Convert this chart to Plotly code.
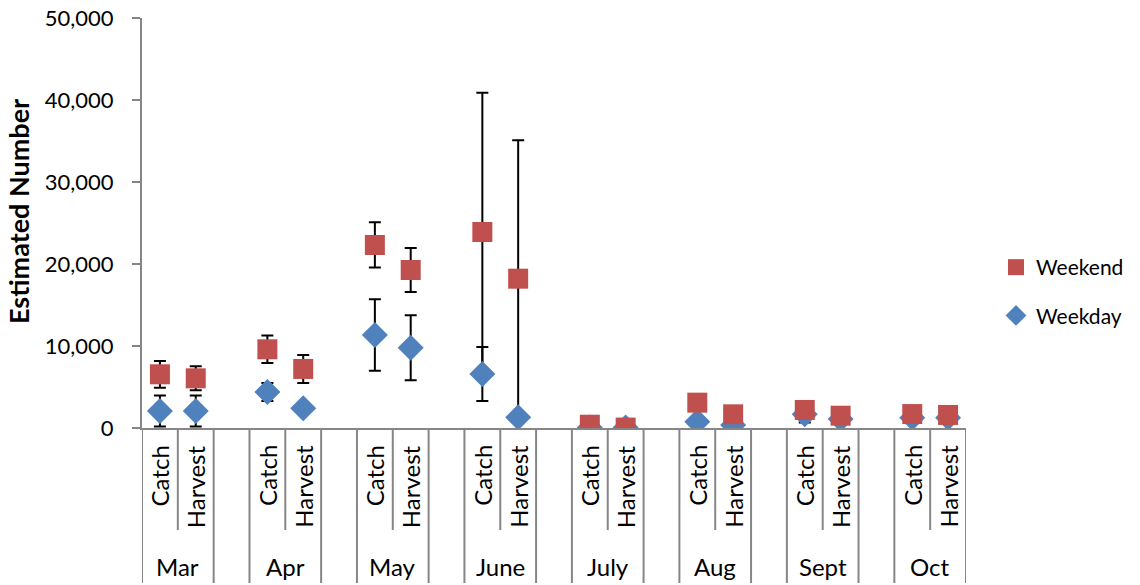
import plotly.graph_objects as go

months = ["Mar", "Apr", "May", "June", "July", "Aug", "Sept", "Oct"]
measures = ["Catch", "Harvest"]

# values in order: Mar Catch, Mar Harvest, Apr Catch, Apr Harvest, ...
weekend = [6550, 6060, 9600, 7200, 22320, 19270, 23900, 18210,
           400, 50, 3090, 1670, 2200, 1500, 1700, 1590]
weekend_err = [1630, 1460, 1680, 1700, 2760, 2680, 16990, 16870,
               0, 0, 0, 0, 0, 0, 0, 0]
weekday = [2070, 2070, 4400, 2400, 11340, 9790, 6590, 1300,
           50, 50, 770, 370, 1670, 1100, 1260, 1260]
weekday_err = [1900, 1900, 1100, 400, 4350, 3960, 3300, 0,
               0, 0, 0, 0, 1000, 0, 0, 0]

yticks = [0, 10000, 20000, 30000, 40000, 50000]

RED = "#C0504D"
BLUE = "#4F81BD"
GRAY = "#868686"
FONT = "Lato"

# category slot positions: each month has Catch, Harvest, then a blank slot
xpos = []
for m in range(len(months)):
    for j in range(len(measures)):
        xpos.append(3 * m + j)
n_slots = 3 * len(months) - 1

fig = go.Figure()

errbar = dict(type="data", symmetric=True, color="black", thickness=2, width=6, visible=True)

# error bars first (drawn beneath all markers)
fig.add_trace(go.Scatter(x=xpos, y=weekday, mode="markers",
                         marker=dict(size=1, color="rgba(0,0,0,0)"),
                         error_y=dict(array=weekday_err, **errbar),
                         showlegend=False, hoverinfo="skip"))
fig.add_trace(go.Scatter(x=xpos, y=weekend, mode="markers",
                         marker=dict(size=1, color="rgba(0,0,0,0)"),
                         error_y=dict(array=weekend_err, **errbar),
                         showlegend=False, hoverinfo="skip"))

fig.add_trace(go.Scatter(x=xpos, y=weekday, mode="markers", name="Weekday",
                         marker=dict(symbol="diamond", size=20, color=BLUE,
                                     line=dict(width=0)),
                         legendgroup="wd", legendrank=2))
fig.add_trace(go.Scatter(x=xpos, y=weekend, mode="markers", name="Weekend",
                         marker=dict(symbol="square", size=20, color=RED,
                                     line=dict(width=0)),
                         legendgroup="we", legendrank=1))

W, H = 1140, 585
L, T = 142, 18
R = W - 966
B = H - 428
plot_w = W - L - R
plot_h = H - T - B
def py(pix):
    return (428 - pix) / plot_h
def px(pix):
    return (pix - 142) / plot_w

shapes = []
annotations = []
for m, month in enumerate(months):
    left = 3 * m - 0.5
    right = 3 * m + 1.5
    for xv in (left, right):
        shapes.append(dict(type="line", xref="x", yref="paper", x0=xv, x1=xv,
                           y0=0, y1=py(583), line=dict(color=GRAY, width=2)))
    shapes.append(dict(type="line", xref="x", yref="paper", x0=3 * m + 0.5, x1=3 * m + 0.5,
                       y0=0, y1=py(530), line=dict(color=GRAY, width=2)))
    for j, meas in enumerate(measures):
        annotations.append(dict(x=3 * m + j, y=py(443), xref="x", yref="paper",
                                text=meas, textangle=-90, showarrow=False,
                                xanchor="center", yanchor="top",
                                font=dict(family=FONT, size=24, color="black")))
    annotations.append(dict(x=3 * m + 0.5, y=py(566), xref="x", yref="paper",
                            text=month, showarrow=False, xanchor="center", yanchor="middle",
                            font=dict(family=FONT, size=24, color="black")))

# y-axis title as annotation for exact placement
annotations.append(dict(x=px(18), y=py(212), xref="paper", yref="paper",
                        text="<b>Estimated Number</b>", textangle=-90, showarrow=False,
                        xanchor="center", yanchor="middle",
                        font=dict(family=FONT, size=27, color="black")))

fig.update_layout(
    width=W, height=H, autosize=False,
    margin=dict(l=L, r=R, t=T, b=B, autoexpand=False),
    plot_bgcolor="white", paper_bgcolor="white",
    font=dict(family=FONT, color="black"),
    shapes=shapes, annotations=annotations,
    legend=dict(x=px(996), y=py(291.5),
                xanchor="left", yanchor="middle", traceorder="grouped",
                tracegroupgap=18, font=dict(family=FONT, size=21, color="black"),
                bgcolor="rgba(0,0,0,0)", itemwidth=30),
    xaxis=dict(range=[-0.5, n_slots - 0.5], showticklabels=False, ticks="",
               showgrid=False, zeroline=False, showline=True, linecolor=GRAY,
               linewidth=2, automargin=False),
    yaxis=dict(range=[0, 50000], tickvals=yticks, tickformat=",", ticks="outside",
               ticklen=8, tickwidth=2, tickcolor=GRAY, showgrid=False, zeroline=False,
               showline=True, linecolor=GRAY, linewidth=2, ticklabelstandoff=14,
               automargin=False, ticklabeloverflow="allow",
               tickfont=dict(family=FONT, size=22, color="black")),
    showlegend=True,
)

fig.write_html("out.html", config={"displayModeBar": False},
               post_script="document.body.style.margin='0';document.body.style.overflow='hidden';")
